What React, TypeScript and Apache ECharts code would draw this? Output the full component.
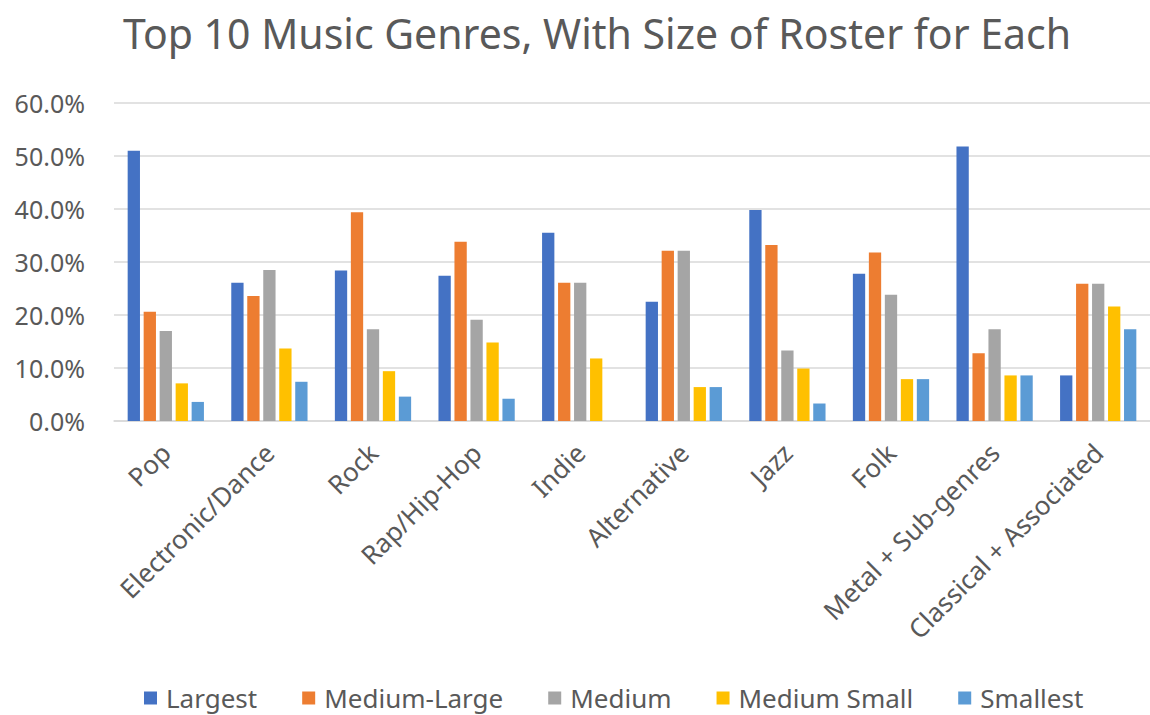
import React, { useEffect, useRef } from "react";
import * as echarts from "echarts";

const categories = [
  "Pop",
  "Electronic/Dance",
  "Rock",
  "Rap/Hip-Hop",
  "Indie",
  "Alternative",
  "Jazz",
  "Folk",
  "Metal + Sub-genres",
  "Classical + Associated",
];

const largest = [51.0, 26.1, 28.4, 27.4, 35.5, 22.5, 39.8, 27.8, 51.8, 8.6];
const mediumLarge = [20.6, 23.6, 39.4, 33.8, 26.1, 32.1, 33.2, 31.8, 12.8, 25.9];
const medium = [17.0, 28.5, 17.3, 19.1, 26.1, 32.1, 13.3, 23.8, 17.3, 25.9];
const mediumSmall = [7.1, 13.7, 9.4, 14.8, 11.8, 6.4, 9.9, 7.9, 8.6, 21.6];
const smallest = [3.6, 7.4, 4.6, 4.2, 0, 6.4, 3.3, 7.9, 8.6, 17.3];

const seriesNames = ["Largest", "Medium-Large", "Medium", "Medium Small", "Smallest"];
const seriesData = [largest, mediumLarge, medium, mediumSmall, smallest];
const colors = ["#4472C4", "#ED7D31", "#A5A5A5", "#FFC000", "#5B9BD5"];

const yTicks = [0, 10, 20, 30, 40, 50, 60];

const FONT = "'Noto Sans', 'Open Sans', sans-serif";
const TEXT = "#595959";

export default function App() {
  const ref = useRef<HTMLDivElement>(null);

  useEffect(() => {
    if (!ref.current) return;
    const chart = echarts.init(ref.current, undefined, { renderer: "svg" });
    chart.setOption({
      animation: false,
      backgroundColor: "#ffffff",
      color: colors,
      title: {
        text: "Top 10 Music Genres, With Size of Roster for Each",
        left: 118,
        top: 7,
        textStyle: {
          fontFamily: FONT,
          fontSize: 41,
          fontWeight: "normal",
          color: TEXT,
        },
      },
      legend: {
        bottom: -1,
        left: 139,
        itemWidth: 13,
        itemHeight: 13,
        itemGap: 45,
        icon: "rect",
        textStyle: { fontFamily: FONT, fontSize: 26, color: TEXT, padding: [0, 0, 0, 4] },
        data: seriesNames,
      },
      grid: {
        left: 114,
        top: 103,
        width: 1047,
        height: 318,
        containLabel: false,
      },
      xAxis: {
        type: "category",
        data: categories,
        axisLine: { show: true, lineStyle: { color: "#D9D9D9", width: 1.5 } },
        axisTick: { show: false },
        axisLabel: {
          rotate: 45,
          interval: 0,
          margin: 27,
          fontFamily: FONT,
          fontSize: 26,
          color: TEXT,
        },
      },
      yAxis: {
        type: "value",
        min: yTicks[0],
        max: yTicks[yTicks.length - 1],
        interval: 10,
        axisLine: { show: false },
        axisTick: { show: false },
        splitLine: { lineStyle: { color: "#D9D9D9", width: 1.5 } },
        axisLabel: {
          margin: 29,
          fontFamily: FONT,
          fontSize: 25,
          color: TEXT,
          formatter: (v: number) => v.toFixed(1) + "%",
        },
      },
      series: seriesNames.map((name, i) => ({
        name,
        type: "bar",
        data: seriesData[i],
        barWidth: 12.3,
        barGap: "30%",
        itemStyle: { color: colors[i] },
      })),
    });
    return () => chart.dispose();
  }, []);

  return (
    <div
      ref={ref}
      style={{ position: "fixed", left: 0, top: 0, width: 1150, height: 715 }}
    />
  );
}
